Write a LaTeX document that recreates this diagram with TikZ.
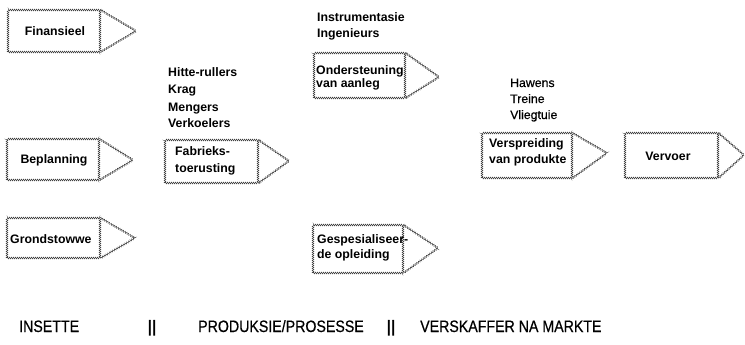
\documentclass[tikz,border=0pt]{standalone}
\usepackage{fontspec}
\setmainfont{Liberation Sans}
\newfontfamily\narrowfont[FakeStretch=0.86,FakeBold=0.5]{Liberation Sans}
\newfontfamily\barfont[FakeBold=2.5]{Liberation Sans}
\newfontfamily\medfont[FakeBold=0.6]{Liberation Sans}
\usetikzlibrary{decorations.pathmorphing}
\tikzset{
  rough/.style={draw=black!75, line width=0.45pt, decorate,
    decoration={zigzag, amplitude=0.9pt, segment length=2pt}},
  abox/.style={rough, fill=white, inner sep=0pt},
  bt/.style={anchor=base west, inner sep=0pt,
    font=\bfseries\fontsize{12.3}{15}\selectfont},
  bc/.style={anchor=base, inner sep=0pt,
    font=\bfseries\fontsize{12.3}{15}\selectfont},
  rt/.style={anchor=base west, inner sep=0pt,
    font=\medfont\fontsize{12.3}{15}\selectfont},
  foot/.style={anchor=base west, inner sep=0pt,
    font=\narrowfont\fontsize{16.5}{18}\selectfont},
  bars/.style={anchor=base, inner sep=0pt,
    font=\barfont\fontsize{16.5}{18}\selectfont},
}
\newcommand{\tip}[2]{\draw[rough] (#1.north east) -- (#2) -- (#1.south east);}
\begin{document}
\begin{tikzpicture}[x=1pt,y=-1pt]
\useasboundingbox (0,0) rectangle (745,345);

% Inputs
\node[abox, minimum width=92pt, minimum height=42pt] (fin) at (54,31) {};
\coordinate (fint) at (136,31);
\tip{fin}{fint}
\node[bc] (fintx) at (55,36) {Finansieel};

\node[abox, minimum width=92pt, minimum height=41pt] (bep) at (53,159.5) {};
\coordinate (bept) at (133,160);
\tip{bep}{bept}
\node[bc] (beptx) at (54,164) {Beplanning};

\node[abox, minimum width=93pt, minimum height=40pt] (gro) at (53.5,238) {};
\coordinate (grot) at (135,238);
\tip{gro}{grot}
\node[bt] (grotx) at (10,243) {Grondstowwe};

% Production
\node[bt] (h1) at (168,77) {Hitte-rullers};
\node[bt] (h2) at (168,94) {Krag};
\node[bt] (h3) at (168,111) {Mengers};
\node[bt] (h4) at (168,128) {Verkoelers};

\node[abox, minimum width=93pt, minimum height=43pt] (fab) at (211.5,161.5) {};
\coordinate (fabt) at (289,161);
\tip{fab}{fabt}
\node[bt] (fab1) at (175,155) {Fabrieks-};
\node[bt] (fab2) at (175,172) {toerusting};

\node[bt] (i1) at (317,22) {Instrumentasie};
\node[bt] (i2) at (317,38) {Ingenieurs};

\node[abox, minimum width=91pt, minimum height=45pt] (ond) at (359.5,75.5) {};
\coordinate (ondt) at (439,77);
\tip{ond}{ondt}
\node[bt] (ond1) at (316,75) {Ondersteuning};
\node[bt] (ond2) at (316,88) {van aanleg};

\node[abox, minimum width=90pt, minimum height=48pt] (ges) at (358,249) {};
\coordinate (gest) at (438,248);
\tip{ges}{gest}
\node[bt] (ges1) at (317,243) {Gespesialiseer-};
\node[bt] (ges2) at (317,258) {de opleiding};

% Distribution
\node[rt] (hw1) at (510,87) {Hawens};
\node[rt] (hw2) at (510,103) {Treine};
\node[rt] (hw3) at (510,119) {Vliegtuie};

\node[abox, minimum width=90pt, minimum height=45pt] (ver) at (527,155.5) {};
\coordinate (vert) at (607,153);
\tip{ver}{vert}
\node[bt] (ver1) at (489,147) {Verspreiding};
\node[bt] (ver2) at (489,163) {van produkte};

\node[abox, minimum width=93pt, minimum height=45pt] (vvo) at (671.5,155.5) {};
\coordinate (vvot) at (744,155);
\tip{vvo}{vvot}
\node[bc] (vvotx) at (668,160) {Vervoer};

% Footer
\node[foot] (f1) at (19,332) {INSETTE};
\node[bars] (b1) at (152,332) {||};
\node[foot] (f2) at (198,332) {PRODUKSIE/PROSESSE};
\node[bars] (b2) at (391,332) {||};
\node[foot] (f3) at (420,332) {VERSKAFFER NA MARKTE};
\end{tikzpicture}
\end{document}
